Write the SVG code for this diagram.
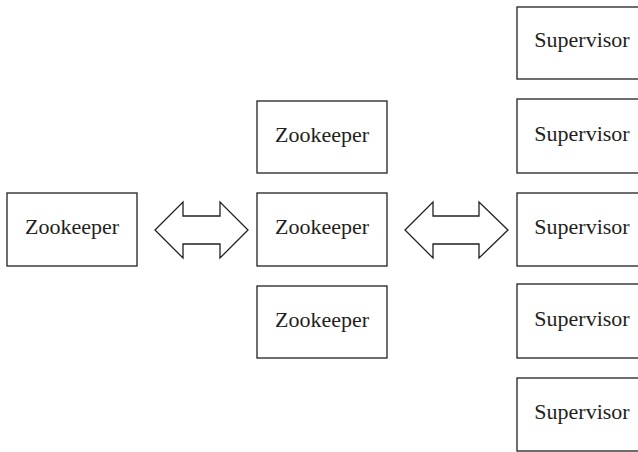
<svg xmlns="http://www.w3.org/2000/svg" width="638" height="452" viewBox="0 0 638 452">
  <style>
    .box { fill: #ffffff; stroke: #231f20; stroke-width: 1.3; }
    .arrow { fill: #ffffff; stroke: #231f20; stroke-width: 1.3; stroke-linejoin: miter; }
    .label { font-family: "Liberation Serif", "Times New Roman", serif; font-size: 22px; fill: #231f20; text-anchor: middle; }
  </style>
  <rect width="638" height="452" fill="#ffffff"/>

  <!-- left zookeeper -->
  <g id="zk-left">
    <rect class="box" x="7" y="193" width="130" height="73"/>
    <text class="label" x="72" y="234">Zookeeper</text>
  </g>

  <!-- zookeeper ensemble -->
  <g id="zk-top">
    <rect class="box" x="257" y="101" width="130" height="72"/>
    <text class="label" x="322" y="141.5">Zookeeper</text>
  </g>
  <g id="zk-mid">
    <rect class="box" x="257" y="193" width="130" height="73"/>
    <text class="label" x="322" y="234">Zookeeper</text>
  </g>
  <g id="zk-bottom">
    <rect class="box" x="257" y="286" width="130" height="72"/>
    <text class="label" x="322" y="326.5">Zookeeper</text>
  </g>

  <!-- supervisors -->
  <g id="sup-1">
    <rect class="box" x="517" y="7" width="130" height="72"/>
    <text class="label" x="582" y="47">Supervisor</text>
  </g>
  <g id="sup-2">
    <rect class="box" x="517" y="99" width="130" height="74"/>
    <text class="label" x="582" y="140.5">Supervisor</text>
  </g>
  <g id="sup-3">
    <rect class="box" x="517" y="193" width="130" height="73"/>
    <text class="label" x="582" y="234">Supervisor</text>
  </g>
  <g id="sup-4">
    <rect class="box" x="517" y="284" width="130" height="74"/>
    <text class="label" x="582" y="325.5">Supervisor</text>
  </g>
  <g id="sup-5">
    <rect class="box" x="517" y="378" width="130" height="73"/>
    <text class="label" x="582" y="419">Supervisor</text>
  </g>

  <!-- block double arrows -->
  <g id="connectors">
    <polygon class="arrow" points="155,230 183,202 183,216 220,216 220,202 248,230 220,258 220,244 183,244 183,258"/>
    <polygon class="arrow" points="405,230 433,202 433,216 479,216 479,202 508,230 479,258 479,244 433,244 433,258"/>
  </g>
</svg>
